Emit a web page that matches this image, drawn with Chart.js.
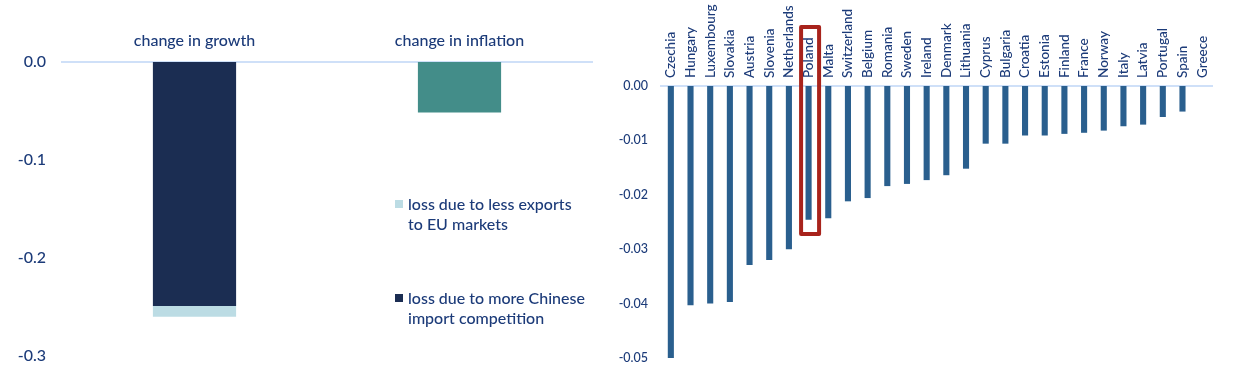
<!DOCTYPE html>
<html>
<head>
<meta charset="utf-8">
<script src="https://cdn.jsdelivr.net/npm/chart.js@4.4.1/dist/chart.umd.min.js"></script>
<style>
  html, body { margin: 0; padding: 0; background: #ffffff; }
  body { width: 1240px; height: 384px; position: relative; overflow: hidden; font-family: Lato, "Noto Sans", sans-serif; }
  #left { position: absolute; left: 0; top: 0; width: 600px; height: 384px; }
  #right { position: absolute; left: 600px; top: 0; width: 640px; height: 384px; }
  .leg { position: absolute; left: 408px; font-size: 16px; font-weight: 500; line-height: 20px; color: #1c3b79; white-space: nowrap; }
  .sw { position: absolute; width: 8px; height: 8px; left: 395px; }
</style>
</head>
<body>
<div id="left"><canvas id="c1"></canvas></div>
<div id="right"><canvas id="c2"></canvas></div>
<div class="sw" style="top:200px;background:#bcdce4"></div>
<div class="leg" style="top:194px">loss due to less exports<br>to EU markets</div>
<div class="sw" style="top:294px;background:#1b2d52"></div>
<div class="leg" style="top:288px">loss due to more Chinese<br>import competition</div>
<script>
// ---- Left panel data ----
const leftCategories = ['change in growth', 'change in inflation'];
const chineseCompetition = [-0.249, null];
const lessExports = [-0.011, null];
const inflationChange = [null, -0.0515];
const leftTicks = [0, -0.1, -0.2, -0.3];

// ---- Right panel data ----
const countries = ['Czechia','Hungary','Luxembourg','Slovakia','Austria','Slovenia','Netherlands','Poland','Malta','Switzerland','Belgium','Romania','Sweden','Ireland','Denmark','Lithuania','Cyprus','Bulgaria','Croatia','Estonia','Finland','France','Norway','Italy','Latvia','Portugal','Spain','Greece'];
const countryValues = [-0.0502,-0.0403,-0.0400,-0.0397,-0.0329,-0.0320,-0.0300,-0.0246,-0.0243,-0.0212,-0.0206,-0.0184,-0.0180,-0.0173,-0.0164,-0.0152,-0.0106,-0.0106,-0.0091,-0.0091,-0.0088,-0.0086,-0.0082,-0.0074,-0.0071,-0.0057,-0.0047,0];
const rightTicks = [0, -0.01, -0.02, -0.03, -0.04, -0.05];
const highlighted = 'Poland';

const NAVY = '#1c3b79';
const FONT = 'Lato, "Noto Sans", sans-serif';
const COUNTRY_FONT_SIZE = 13.5;

function fmt(v, d) { return Math.abs(v) < 1e-9 ? (0).toFixed(d) : v.toFixed(d); }

new Chart(document.getElementById('c1'), {
  type: 'bar',
  data: {
    labels: leftCategories,
    datasets: [
      { label: 'loss due to more Chinese import competition', data: chineseCompetition, backgroundColor: '#1b2d52' },
      { label: 'loss due to less exports to EU markets', data: lessExports, backgroundColor: '#bcdce4' },
      { label: 'inflation', data: inflationChange, backgroundColor: '#438d89' }
    ]
  },
  options: {
    responsive: true, maintainAspectRatio: false, animation: false,
    layout: { padding: { left: 0, right: 8, top: 0, bottom: 28 } },
    plugins: { legend: { display: false }, tooltip: { enabled: false } },
    datasets: { bar: { categoryPercentage: 1, barPercentage: 0.314 } },
    scales: {
      x: {
        position: 'top', stacked: true,
        grid: { display: false, drawTicks: false },
        border: { display: true, color: '#cfe0f8', width: 2 },
        ticks: { color: NAVY, font: { family: FONT, size: 16, weight: '500' }, padding: 12, maxRotation: 0, minRotation: 0 },
        afterFit: s => { s.height = 62; }
      },
      y: {
        stacked: true, min: -0.3, max: 0,
        afterBuildTicks: s => { s.ticks = leftTicks.map(v => ({ value: v })); },
        grid: { display: false, drawTicks: false },
        border: { display: false },
        ticks: { color: NAVY, font: { family: FONT, size: 16, weight: '500' }, padding: 16, callback: v => fmt(v, 1) },
        afterFit: s => { s.width = 62; }
      }
    }
  }
});

const highlightBox = {
  id: 'highlightBox',
  afterDraw(chart) {
    const idx = chart.data.labels.indexOf(highlighted);
    if (idx < 0) return;
    const ctx = chart.ctx;
    const cx = chart.scales.x.getPixelForValue(idx);
    const top = chart.chartArea.top - 59;
    const bottom = chart.scales.y.getPixelForValue(-0.0272);
    ctx.save();
    ctx.strokeStyle = '#a8231c';
    ctx.lineWidth = 4;
    ctx.lineJoin = 'round';
    ctx.strokeRect(cx - 7.5, top, 18, bottom - top);
    ctx.restore();
  }
};

new Chart(document.getElementById('c2'), {
  type: 'bar',
  data: {
    labels: countries,
    datasets: [{ label: 'impact', data: countryValues, backgroundColor: '#2a5f8e', borderWidth: 0 }]
  },
  options: {
    responsive: true, maintainAspectRatio: false, animation: false,
    layout: { padding: { left: 0, right: 28, top: 0, bottom: 26 } },
    plugins: { legend: { display: false }, tooltip: { enabled: false } },
    datasets: { bar: { categoryPercentage: 1, barPercentage: 0.31 } },
    scales: {
      x: {
        position: 'top',
        grid: { display: false, drawTicks: false },
        border: { display: true, color: '#cfe0f8', width: 2 },
        ticks: { color: NAVY, font: { family: FONT, size: COUNTRY_FONT_SIZE, weight: '500' }, padding: 8,
                 labelOffset: COUNTRY_FONT_SIZE * 1.2, maxRotation: 90, minRotation: 90, autoSkip: false },
        afterFit: s => { s.height = 86; }
      },
      y: {
        min: -0.05, max: 0,
        afterBuildTicks: s => { s.ticks = rightTicks.map(v => ({ value: v })); },
        grid: { display: false, drawTicks: false },
        border: { display: false },
        ticks: { color: NAVY, font: { family: FONT, size: 12.5, weight: '500' }, padding: 13, callback: v => fmt(v, 2) },
        afterFit: s => { s.width = 61; }
      }
    }
  },
  plugins: [highlightBox]
});
</script>
</body>
</html>
